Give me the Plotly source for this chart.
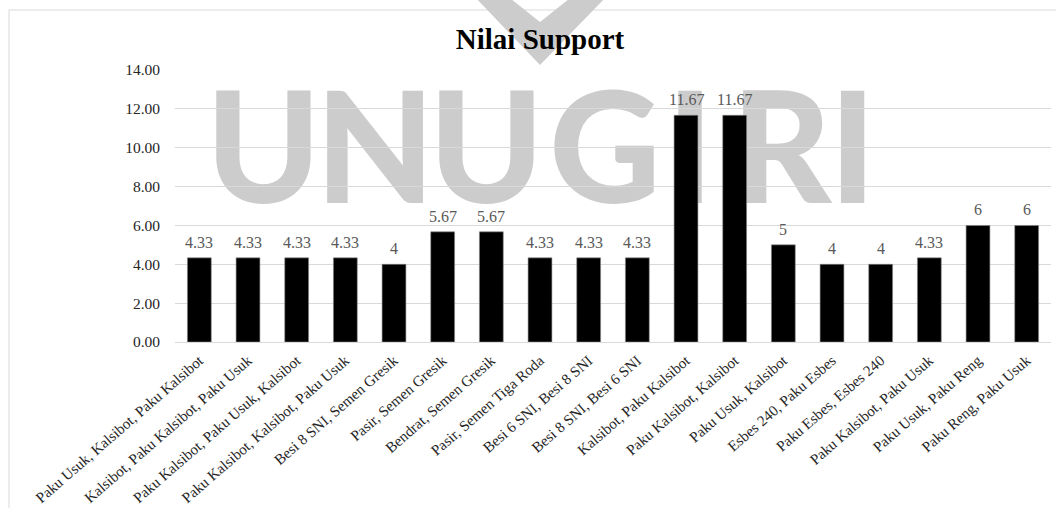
import plotly.graph_objects as go

# ---- data ----
categories = [
    "Paku Usuk, Kalsibot, Paku Kalsibot",
    "Kalsibot, Paku Kalsibot, Paku Usuk",
    "Paku Kalsibot, Paku Usuk, Kalsibot",
    "Paku Kalsibot, Kalsibot, Paku Usuk",
    "Besi 8 SNI, Semen Gresik",
    "Pasir, Semen Gresik",
    "Bendrat, Semen Gresik",
    "Pasir, Semen Tiga Roda",
    "Besi 6 SNI, Besi 8 SNI",
    "Besi 8 SNI, Besi 6 SNI",
    "Kalsibot, Paku Kalsibot",
    "Paku Kalsibot, Kalsibot",
    "Paku Usuk, Kalsibot",
    "Esbes 240, Paku Esbes",
    "Paku Esbes, Esbes 240",
    "Paku Kalsibot, Paku Usuk",
    "Paku Usuk, Paku Reng",
    "Paku Reng, Paku Usuk",
]
support = [4.33, 4.33, 4.33, 4.33, 4, 5.67, 5.67, 4.33, 4.33, 4.33,
           11.67, 11.67, 5, 4, 4, 4.33, 6, 6]
y_ticks = [0, 2, 4, 6, 8, 10, 12, 14]
title_text = "Nilai Support"
watermark_letters = ["U", "N", "U", "G", "I", "R", "I"]

# ---- layout geometry ----
W, H = 1056, 508
L, R, T, B = 175, 5, 70, 166
PW, PH = W - L - R, H - T - B


def px(x):
    return (x - L) / PW


def py(y):
    return (H - B - y) / PH


SERIF = "Liberation Serif, Times New Roman, serif"

fig = go.Figure()
fig.add_trace(go.Bar(
    x=categories,
    y=support,
    marker=dict(color="#000000", line=dict(color="#8c8c8c", width=0.6)),
    hoverinfo="x+y",
))

# data labels
annotations = [
    dict(x=c, y=v, xref="x", yref="y", text=f"{v:g}", showarrow=False,
         yanchor="bottom", xanchor="center", yshift=5,
         font=dict(family=SERIF, size=16, color="#595959"))
    for c, v in zip(categories, support)
]

shapes = []
# chart border
shapes.append(dict(type="rect", xref="paper", yref="paper",
                   x0=px(9), x1=px(W + 5), y0=py(H + 5), y1=py(10),
                   line=dict(color="#d9d9d9", width=1), layer="below"))
# watermark chevron
pts = [(473, -5), (540, 65), (608, -5), (574, -5), (540, 22), (506, -5)]
path = "M " + " L ".join(f"{px(a):.5f},{py(b):.5f}" for a, b in pts) + " Z"
shapes.append(dict(type="path", xref="paper", yref="paper", path=path,
                   fillcolor="#cccccc", line=dict(width=0), layer="below"))
# watermark letters (as shape labels so they sit beneath gridlines and bars)
letter_boxes = [(220, 307), (328, 422), (443, 530), (550, 660),
                (676, 704), (738, 825), (838, 867)]
for ch, (a, b) in zip(watermark_letters, letter_boxes):
    shapes.append(dict(
        type="rect", xref="paper", yref="paper",
        x0=px(a), x1=px(b), y0=py(197), y1=py(86),
        line=dict(width=0), fillcolor="rgba(0,0,0,0)", layer="below",
        label=dict(text=ch, textposition="middle center",
                   font=dict(family="Lato, Roboto, Liberation Sans, sans-serif",
                             size=154, color="#cccccc", weight=900)),
    ))

fig.update_layout(
    width=W, height=H,
    margin=dict(l=L, r=R, t=T, b=B, autoexpand=False),
    paper_bgcolor="white",
    plot_bgcolor="rgba(0,0,0,0)",
    showlegend=False,
    bargap=0.51,
    title=dict(text=f"<b>{title_text}</b>", xref="container", yref="container",
               x=540 / W, y=1 - 39 / H, xanchor="center", yanchor="middle",
               font=dict(family=SERIF, size=29, color="#000000")),
    shapes=shapes,
    annotations=annotations,
    xaxis=dict(
        type="category",
        tickangle=-41,
        tickfont=dict(family=SERIF, size=15, color="#262626"),
        showline=True, linecolor="#d9d9d9", linewidth=1,
        showgrid=False, ticks="", automargin=False,
        ticklabelstandoff=3,
    ),
    yaxis=dict(
        range=[0, 14],
        tickvals=y_ticks,
        tickformat=".2f",
        tickfont=dict(family=SERIF, size=15.5, color="#262626"),
        showgrid=True, gridcolor="#d9d9d9", gridwidth=1,
        zeroline=False, showline=False, ticks="", automargin=False,
        ticklabelstandoff=14,
    ),
)

fig.write_html("out.html",
               config={"displayModeBar": False},
               post_script="document.body.style.margin='0';"
                           "document.body.style.overflow='hidden';")
